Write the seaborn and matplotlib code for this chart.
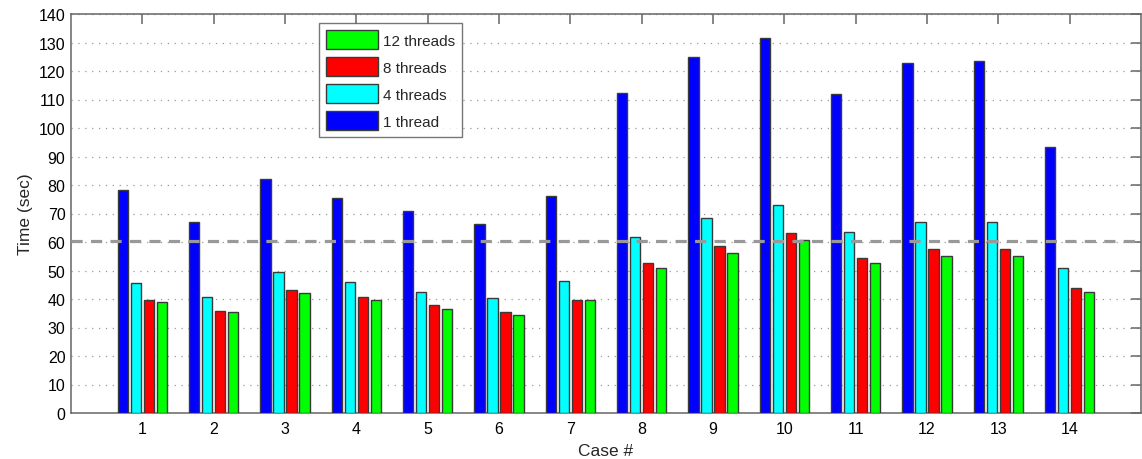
import matplotlib
matplotlib.use("Agg")
import matplotlib.pyplot as plt
import seaborn as sns
import pandas as pd

cases = [str(i) for i in range(1, 15)]
t1 = [78.2, 67.0, 82.0, 75.4, 70.8, 66.2, 76.0, 112.3, 125.0, 131.5, 111.9, 122.9, 123.4, 93.2]
t4 = [45.5, 40.6, 49.4, 46.1, 42.6, 40.2, 46.2, 61.9, 68.4, 73.0, 63.5, 67.1, 67.1, 51.0]
t8 = [39.6, 35.9, 43.2, 40.7, 37.8, 35.6, 39.6, 52.7, 58.5, 63.3, 54.4, 57.4, 57.4, 43.9]
t12 = [38.9, 35.4, 42.2, 39.5, 36.4, 34.5, 39.5, 50.8, 56.0, 60.6, 52.7, 55.1, 55.0, 42.6]
series_names = ["1 thread", "4 threads", "8 threads", "12 threads"]
reference_time = 60.3
yticks = list(range(0, 141, 10))

rows = []
for name, vals in zip(series_names, [t1, t4, t8, t12]):
    for c, v in zip(cases, vals):
        rows.append({"Case": c, "Time": v, "Threads": name})
df = pd.DataFrame(rows)

sns.set_style("white")
plt.rcParams["font.family"] = ["Liberation Sans", "DejaVu Sans"]

fig = plt.figure(figsize=(11.42, 4.6), dpi=100)
ax = fig.add_axes([71 / 1142, 46 / 460, 1070 / 1142, 399 / 460])

palette = {"1 thread": "#0000ff", "4 threads": "#00ffff",
           "8 threads": "#ff0000", "12 threads": "#00ff00"}
sns.barplot(data=df, x="Case", y="Time", hue="Threads", order=cases,
            hue_order=series_names, palette=palette, width=0.73, gap=0.2,
            edgecolor="#3a3a3a", linewidth=1.0, saturation=1, ax=ax,
            legend=True, zorder=3)

ax.axhline(reference_time, color="#999999", lw=2.3, ls=(0, (3.5, 2.6)), zorder=4)

ax.set_xlim(-1, 14)
ax.set_ylim(0, 140)
ax.set_yticks(yticks)
ax.yaxis.grid(True, linestyle=(0, (1, 4.5)), color="#999999", lw=0.9, zorder=0)
ax.xaxis.grid(False)
ax.set_axisbelow(True)

for s in ax.spines.values():
    s.set_color("#666666")
    s.set_linewidth(1.1)
ax.tick_params(axis="both", which="major", direction="in", length=7,
               width=1.1, color="#666666", top=True, right=True,
               labelsize=11.5, labelcolor="black", pad=4)
ax.tick_params(axis="x", pad=6)

ax.set_xlabel("Case #", fontsize=12.5, labelpad=5)
ax.set_ylabel("Time (sec)", fontsize=12.5, labelpad=4)

handles, labels = ax.get_legend_handles_labels()
leg = ax.legend(handles[::-1], labels[::-1], loc="upper left",
                bbox_to_anchor=(0.2315, 0.977), fontsize=11, frameon=True,
                fancybox=False, edgecolor="#555555", handlelength=3.4,
                handleheight=1.55, labelspacing=0.52, borderpad=0.45,
                handletextpad=0.35, borderaxespad=0)
leg.get_frame().set_linewidth(1.0)

fig.savefig("out.png", dpi=100, facecolor="white")
